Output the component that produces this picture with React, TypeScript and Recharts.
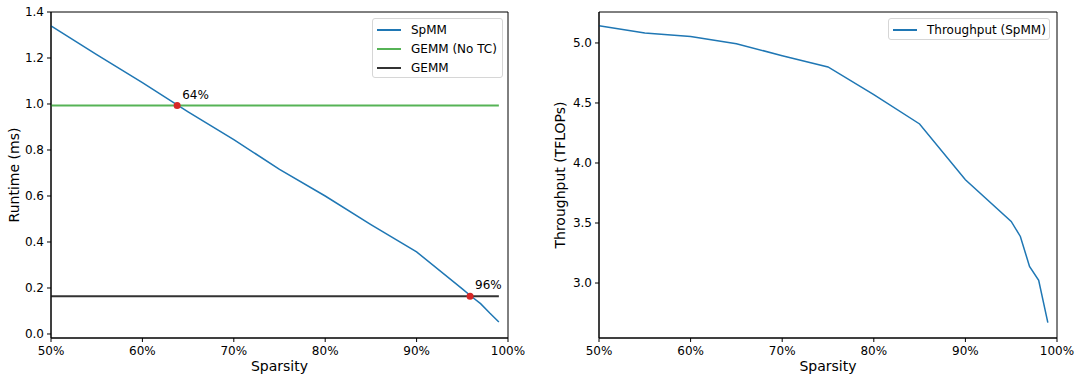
import { LineChart, Line, XAxis, YAxis, ReferenceArea, ReferenceDot, Legend } from "recharts";

// values
const sparsity = [50, 55, 60, 65, 70, 75, 80, 85, 90, 95, 96, 97, 98, 99];
const spmmRuntime = [1.34, 1.215, 1.093, 0.966, 0.845, 0.716, 0.6, 0.476, 0.357, 0.196, 0.163, 0.132, 0.091, 0.052];
const gemmNoTcRuntime = 0.993;
const gemmRuntime = 0.164;
const spmmThroughput = [5.144, 5.083, 5.053, 4.994, 4.894, 4.8, 4.569, 4.325, 3.861, 3.513, 3.388, 3.138, 3.022, 2.67];

const crossSparsity = [63.8, 95.85];
const crossRuntime = [0.993, 0.164];
const crossLabels = ["64%", "96%"];

const runtimeSeriesNames = ["SpMM", "GEMM (No TC)", "GEMM"];
const sparsityTicks = [50, 60, 70, 80, 90, 100];
const runtimeTicks = [0, 0.2, 0.4, 0.6, 0.8, 1.0, 1.2, 1.4];
const throughputTicks = [3.0, 3.5, 4.0, 4.5, 5.0];

const runtimeDomain: [number, number] = [-0.0174, 1.4];
const throughputDomain: [number, number] = [2.542, 5.258];

const runtimeRows = sparsity.map((s, i) => ({
  sparsity: s,
  spmm: spmmRuntime[i],
  gemmNoTc: gemmNoTcRuntime,
  gemm: gemmRuntime,
}));
const throughputRows = sparsity.map((s, i) => ({ sparsity: s, throughput: spmmThroughput[i] }));

const FONT = "'DejaVu Sans', sans-serif";
const tickStyle = { fontSize: 12, fill: "#000", fontFamily: FONT };

function legendContent(width: number, height: number, order: string[]) {
  return (props: any) => {
    const items = [...(props.payload || [])].sort(
      (a: any, b: any) => order.indexOf(a.value) - order.indexOf(b.value)
    );
    return (
      <div
        style={{
          width,
          height,
          boxSizing: "border-box",
          border: "1px solid #d6d6d6",
          borderRadius: 3,
          background: "#fff",
          paddingTop: 1,
          fontFamily: FONT,
          fontSize: 12,
          color: "#000",
        }}
      >
        {items.map((entry: any) => (
          <div key={entry.value} style={{ display: "flex", alignItems: "center", height: 19 }}>
            <span style={{ display: "inline-block", width: 24, height: 0, borderTop: `2px solid ${entry.color}`, marginLeft: 4, marginRight: 10 }} />
            <span style={{ whiteSpace: "nowrap" }}>{entry.value}</span>
          </div>
        ))}
      </div>
    );
  };
}

function yAxisLabel(text: string, fromPlot: number) {
  return (props: any) => {
    const vb = props.viewBox || {};
    const cx = vb.x + vb.width - fromPlot;
    const cy = vb.y + vb.height / 2;
    return (
      <text x={cx} y={cy} transform={`rotate(-90, ${cx}, ${cy})`} textAnchor="middle" dominantBaseline="central" fontSize={14} fill="#000" fontFamily={FONT}>
        {text}
      </text>
    );
  };
}

function xAxisLabel(text: string) {
  return (props: any) => {
    const vb = props.viewBox || {};
    return (
      <text x={vb.x + vb.width / 2} y={vb.y + 33} textAnchor="middle" fontSize={14} fill="#000" fontFamily={FONT}>
        {text}
      </text>
    );
  };
}

function dotLabel(text: string) {
  return (props: any) => {
    const vb = props.viewBox || {};
    const cx = vb.x + vb.width / 2;
    const cy = vb.y + vb.height / 2;
    return (
      <text x={cx + 5} y={cy - 7} fontSize={12} fill="#000" fontFamily={FONT}>
        {text}
      </text>
    );
  };
}

function RuntimeChart() {
  return (
    <LineChart width={540} height={383} data={runtimeRows} margin={{ top: 12, right: 32, bottom: 5, left: 6 }}>
      <XAxis
        dataKey="sparsity"
        type="number"
        domain={[50, 100]}
        ticks={sparsityTicks}
        interval={0}
        tickFormatter={(v: number) => `${v}%`}
        tick={tickStyle}
        tickSize={4}
        tickMargin={4}
        height={40}
        stroke="#000"
        label={{ content: xAxisLabel("Sparsity") }}
      />
      <YAxis
        type="number"
        domain={runtimeDomain}
        ticks={runtimeTicks}
        interval={0}
        tickFormatter={(v: number) => v.toFixed(1)}
        tick={tickStyle}
        tickSize={4}
        tickMargin={3}
        width={45}
        stroke="#000"
        label={{ content: yAxisLabel("Runtime (ms)", 37) }}
      />
      <ReferenceArea x1={50} x2={100} y1={runtimeDomain[0]} y2={runtimeDomain[1]} fill="none" stroke="#000" strokeWidth={1} />
      <Line type="linear" dataKey="spmm" name={runtimeSeriesNames[0]} stroke="#1f77b4" strokeWidth={1.5} dot={false} isAnimationActive={false} />
      <Line type="linear" dataKey="gemmNoTc" name={runtimeSeriesNames[1]} stroke="#56b356" strokeWidth={2} dot={false} isAnimationActive={false} />
      <Line type="linear" dataKey="gemm" name={runtimeSeriesNames[2]} stroke="#333333" strokeWidth={2} dot={false} isAnimationActive={false} />
      {crossSparsity.map((s, i) => (
        <ReferenceDot key={crossLabels[i]} x={s} y={crossRuntime[i]} r={3.5} fill="#d62728" stroke="none" label={{ content: dotLabel(crossLabels[i]) }} />
      ))}
      <Legend
        layout="vertical"
        align="center"
        verticalAlign="middle"
        wrapperStyle={{ left: 372, top: 18, width: 131, height: 60 }}
        content={legendContent(131, 60, runtimeSeriesNames)}
      />
    </LineChart>
  );
}

function ThroughputChart() {
  return (
    <LineChart width={539} height={383} data={throughputRows} margin={{ top: 12, right: 22, bottom: 5, left: 6 }}>
      <XAxis
        dataKey="sparsity"
        type="number"
        domain={[50, 100]}
        ticks={sparsityTicks}
        interval={0}
        tickFormatter={(v: number) => `${v}%`}
        tick={tickStyle}
        tickSize={4}
        tickMargin={4}
        height={40}
        stroke="#000"
        label={{ content: xAxisLabel("Sparsity") }}
      />
      <YAxis
        type="number"
        domain={throughputDomain}
        ticks={throughputTicks}
        interval={0}
        tickFormatter={(v: number) => v.toFixed(1)}
        tick={tickStyle}
        tickSize={4}
        tickMargin={3}
        width={53}
        stroke="#000"
        label={{ content: yAxisLabel("Throughput (TFLOPs)", 39) }}
      />
      <ReferenceArea x1={50} x2={100} y1={throughputDomain[0]} y2={throughputDomain[1]} fill="none" stroke="#000" strokeWidth={1} />
      <Line type="linear" dataKey="throughput" name="Throughput (SpMM)" stroke="#1f77b4" strokeWidth={1.5} dot={false} isAnimationActive={false} />
      <Legend
        layout="vertical"
        align="center"
        verticalAlign="middle"
        wrapperStyle={{ left: 348, top: 18, width: 162, height: 22 }}
        content={legendContent(162, 22, ["Throughput (SpMM)"])}
      />
    </LineChart>
  );
}

export default function App() {
  return (
    <div style={{ position: "fixed", left: 0, top: 0, width: 1079, height: 383, background: "#fff", fontFamily: FONT }}>
      <div style={{ position: "absolute", left: 0, top: 0 }}>
        <RuntimeChart />
      </div>
      <div style={{ position: "absolute", left: 540, top: 0 }}>
        <ThroughputChart />
      </div>
    </div>
  );
}
